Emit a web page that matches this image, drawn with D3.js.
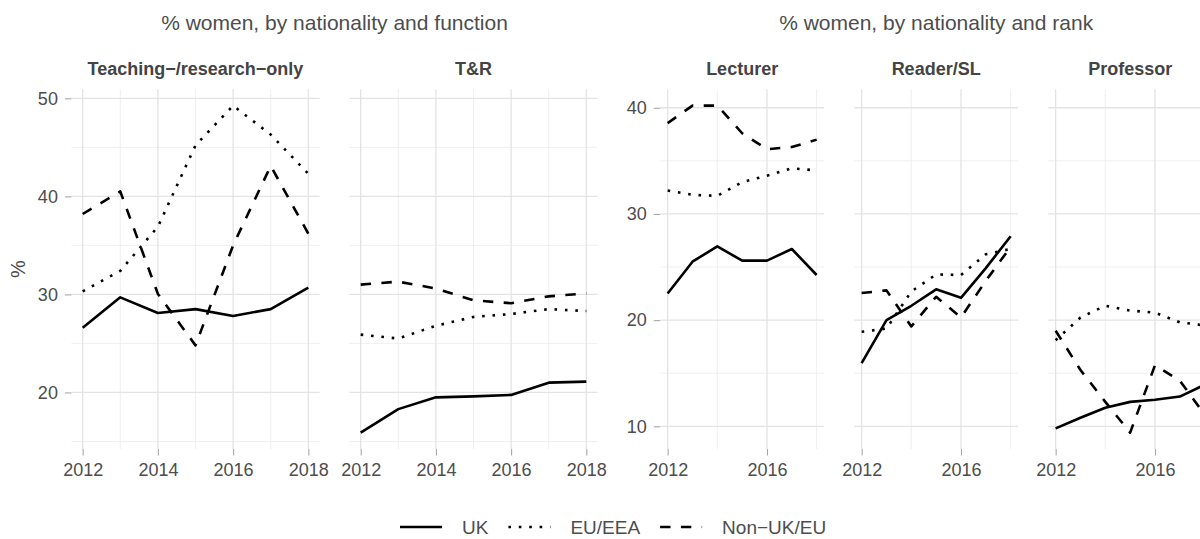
<html>
<head>
<meta charset="utf-8">
<script src="https://d3js.org/d3.v7.min.js"></script>
<style>
body { margin: 0; background: #fff; }
svg text { font-family: "Liberation Sans", Arial, sans-serif; }
.tick-label { fill: #4d4d4d; font-size: 18px; }
.strip { fill: #444; font-size: 18px; font-weight: bold; text-anchor: middle; }
.ptitle { fill: #4d4d4d; font-size: 21px; text-anchor: middle; }
.legend-label { fill: #4d4d4d; font-size: 19px; }
</style>
</head>
<body>
<script>

// ---- data ----
var years = [2012, 2013, 2014, 2015, 2016, 2017, 2018];
var series = ["UK", "EU/EEA", "Non\u2212UK/EU"];

var functionFacets = ["Teaching\u2212/research\u2212only", "T&R"];
var rankFacets = ["Lecturer", "Reader/SL", "Professor"];

// % women by function
var ukTeachResOnly  = [26.6, 29.7, 28.1, 28.5, 27.8, 28.5, 30.7];
var euTeachResOnly  = [30.3, 32.4, 36.9, 45.2, 49.25, 46.3, 42.3];
var nonTeachResOnly = [38.2, 40.5, 30.05, 24.8, 35.0, 43.1, 36.2];

var ukTR  = [15.9, 18.3, 19.5, 19.6, 19.75, 21.0, 21.1];
var euTR  = [25.9, 25.5, 26.8, 27.7, 28.0, 28.5, 28.3];
var nonTR = [31.0, 31.3, 30.6, 29.4, 29.1, 29.8, 30.1];

// % women by rank
var ukLecturer  = [22.5, 25.5, 26.95, 25.6, 25.6, 26.7, 24.25];
var euLecturer  = [32.2, 31.8, 31.7, 33.0, 33.6, 34.3, 34.1];
var nonLecturer = [38.55, 40.2, 40.2, 37.6, 36.1, 36.3, 37.0];

var ukReader  = [15.95, 20.0, 21.35, 22.9, 22.1, 24.9, 27.9];
var euReader  = [18.9, 19.2, 22.7, 24.3, 24.25, 26.2, 26.7];
var nonReader = [22.55, 22.8, 19.4, 22.2, 20.25, 23.7, 26.9];

var ukProfessor  = [9.8, 10.8, 11.75, 12.3, 12.5, 12.8, 13.9];
var euProfessor  = [18.1, 20.25, 21.35, 20.9, 20.7, 19.8, 19.5];
var nonProfessor = [19.0, 15.3, 12.3, 9.4, 15.75, 14.3, 11.1];

// ---- layout ----
var width = 1200, height = 539;
var panelTop = 89.3, panelBottom = 449;
var lineWidth = 2.6;
var dashes = {
    "UK": null,
    "EU/EEA": lineWidth + "," + (lineWidth * 3),
    "Non\u2212UK/EU": (lineWidth * 4) + "," + (lineWidth * 4)
};

var groups = [
    {
        title: "% women, by nationality and function",
        facets: functionFacets,
        values: [[ukTeachResOnly, euTeachResOnly, nonTeachResOnly], [ukTR, euTR, nonTR]],
        left: 71.4, panelW: 248.2, gap: 29.8,
        yBreaks: [20, 30, 40, 50],
        xBreaks: [2012, 2014, 2016, 2018]
    },
    {
        title: "% women, by nationality and rank",
        facets: rankFacets,
        values: [[ukLecturer, euLecturer, nonLecturer], [ukReader, euReader, nonReader],
                 [ukProfessor, euProfessor, nonProfessor]],
        left: 660.2, panelW: 163.9, gap: 30.1,
        yBreaks: [10, 20, 30, 40],
        xBreaks: [2012, 2016]
    }
];

// minor breaks sit half-way between major ones, like ggplot
function minorBreaks(breaks, domain) {
    var step = breaks[1] - breaks[0];
    var out = [];
    for (var v = breaks[0] - step / 2; v <= breaks[breaks.length - 1] + step; v += step) {
        if (v >= domain[0] && v <= domain[1]) out.push(v);
    }
    return out;
}

function expand(ext) {
    var pad = (ext[1] - ext[0]) * 0.05;
    return [ext[0] - pad, ext[1] + pad];
}

var svg = d3.select("body").append("svg")
    .attr("width", width)
    .attr("height", height);

groups.forEach(function(g, gi) {
    var all = d3.merge(g.values.map(function(f) { return d3.merge(f); }));
    var yDomain = expand(d3.extent(all));
    var xDomain = expand(d3.extent(years));

    var y = d3.scaleLinear().domain(yDomain).range([panelBottom, panelTop]);
    var yMinor = minorBreaks(g.yBreaks, yDomain);
    var xMinor = minorBreaks(g.xBreaks, xDomain);

    var groupRight = g.left + g.facets.length * g.panelW + (g.facets.length - 1) * g.gap;

    // group title
    svg.append("text")
        .attr("class", "ptitle")
        .attr("x", (g.left + groupRight) / 2)
        .attr("y", 22.5)
        .attr("dy", "0.35em")
        .text(g.title);

    g.facets.forEach(function(name, fi) {
        var x0 = g.left + fi * (g.panelW + g.gap);
        var x = d3.scaleLinear().domain(xDomain).range([x0, x0 + g.panelW]);
        var panel = svg.append("g");

        // grid: minor first, then major
        panel.selectAll(".ymin").data(yMinor).enter().append("line")
            .attr("x1", x0).attr("x2", x0 + g.panelW)
            .attr("y1", y).attr("y2", y)
            .attr("stroke", "#ebebeb").attr("stroke-width", 0.8);
        panel.selectAll(".xmin").data(xMinor).enter().append("line")
            .attr("x1", x).attr("x2", x)
            .attr("y1", panelTop).attr("y2", panelBottom)
            .attr("stroke", "#ebebeb").attr("stroke-width", 0.8);
        panel.selectAll(".ymaj").data(g.yBreaks).enter().append("line")
            .attr("x1", x0).attr("x2", x0 + g.panelW)
            .attr("y1", y).attr("y2", y)
            .attr("stroke", "#e3e3e3").attr("stroke-width", 1.3);
        panel.selectAll(".xmaj").data(g.xBreaks).enter().append("line")
            .attr("x1", x).attr("x2", x)
            .attr("y1", panelTop).attr("y2", panelBottom)
            .attr("stroke", "#e3e3e3").attr("stroke-width", 1.3);

        // bottom axis
        var xAxis = panel.append("g")
            .attr("transform", "translate(0," + panelBottom + ")")
            .call(d3.axisBottom(x).tickValues(g.xBreaks).tickFormat(d3.format("d"))
                .tickSize(6.5).tickPadding(8));
        xAxis.select(".domain").remove();
        xAxis.selectAll("line").attr("stroke", "#a8a8a8").attr("stroke-width", 1.1);
        xAxis.selectAll("text").attr("class", "tick-label").attr("fill", null);

        // left axis only on the first facet of the group
        if (fi == 0) {
            var yAxis = panel.append("g")
                .attr("transform", "translate(" + x0 + ",0)")
                .call(d3.axisLeft(y).tickValues(g.yBreaks).tickSize(6.5).tickPadding(7));
            yAxis.select(".domain").remove();
            yAxis.selectAll("line").attr("stroke", "#a8a8a8").attr("stroke-width", 1.1);
            yAxis.selectAll("text").attr("class", "tick-label").attr("fill", null);
        }

        // strip label
        svg.append("text")
            .attr("class", "strip")
            .attr("x", x0 + g.panelW / 2)
            .attr("y", 68.8)
            .attr("dy", "0.36em")
            .text(name);

        // lines
        var line = d3.line()
            .x(function(d, i) { return x(years[i]); })
            .y(function(d) { return y(d); });

        g.values[fi].forEach(function(vals, si) {
            panel.append("path")
                .datum(vals)
                .attr("d", line)
                .attr("fill", "none")
                .attr("stroke", "#000")
                .attr("stroke-width", lineWidth)
                .attr("stroke-linejoin", "round")
                .attr("stroke-dasharray", dashes[series[si]]);
        });
    });
});

// y axis title
svg.append("text")
    .attr("transform", "translate(18.3," + ((panelTop + panelBottom) / 2) + ") rotate(-90)")
    .attr("text-anchor", "middle")
    .attr("dy", "0.35em")
    .attr("fill", "#4d4d4d")
    .style("font-size", "20px")
    .text("%");

// legend (kept just clear of the bottom edge)
var legend = svg.append("g").attr("transform", "translate(0,527)");
var lx = 400;
series.forEach(function(s) {
    legend.append("line")
        .attr("x1", lx).attr("x2", lx + 42)
        .attr("y1", 0).attr("y2", 0)
        .attr("stroke", "#000")
        .attr("stroke-width", lineWidth)
        .attr("stroke-dasharray", dashes[s]);
    var t = legend.append("text")
        .attr("class", "legend-label")
        .attr("x", lx + 62)
        .attr("dy", "0.35em")
        .text(s);
    lx = lx + 62 + t.node().getComputedTextLength() + 20;
});

</script>
</body>
</html>
